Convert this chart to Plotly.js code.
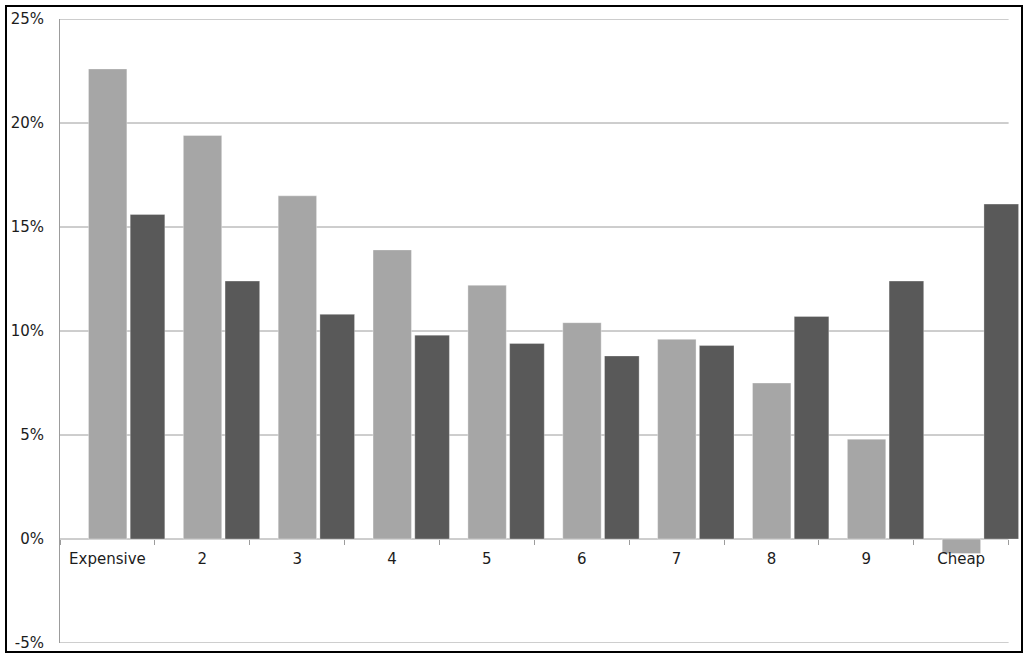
<!DOCTYPE html>
<html>
<head>
<meta charset="utf-8">
<script src="https://cdn.plot.ly/plotly-3.0.1.min.js"></script>
<style>
  html, body { margin: 0; padding: 0; background: white; }
  #chart { width: 1030px; height: 659px; }
  #frame {
    position: absolute; left: 5px; top: 5px; width: 1018px; height: 648px;
    box-sizing: border-box; border: 2px solid #000; pointer-events: none;
  }
</style>
</head>
<body>
<div id="chart"></div>
<div id="frame"></div>
<script>
// categories along the x axis
const categories = ['Expensive', '2', '3', '4', '5', '6', '7', '8', '9', 'Cheap'];

// values in percent
const lightValues = [22.6, 19.4, 16.5, 13.9, 12.2, 10.4, 9.6, 7.5, 4.8, -0.7];
const darkValues = [15.6, 12.4, 10.8, 9.8, 9.4, 8.8, 9.3, 10.7, 12.4, 16.1];

const yTicks = [-5, 0, 5, 10, 15, 20, 25];

const gridGray = '#9c9c9c';
const textColor = '#1c1c1c';

const lightTrace = {
    x: categories,
    y: lightValues,
    type: 'bar',
    name: 'Series 1',
    offset: -0.2,
    width: 0.405,
    marker: { color: '#a6a6a6', line: { color: 'rgba(255,255,255,0.35)', width: 1 } },
    hoverinfo: 'x+y'
};

const darkTrace = {
    x: categories,
    y: darkValues,
    type: 'bar',
    name: 'Series 2',
    offset: 0.24,
    width: 0.365,
    marker: { color: '#595959', line: { color: 'rgba(255,255,255,0.3)', width: 1 } },
    hoverinfo: 'x+y'
};

// the last dark bar pokes out past the right end of the gridlines,
// so the grid is drawn as shapes only across the ten categories
const gridShapes = yTicks.map(v => ({
    type: 'line', layer: 'below',
    xref: 'x', yref: 'y',
    x0: -0.5, x1: categories.length - 0.5, y0: v, y1: v,
    line: { color: gridGray, width: 1 }
}));

const layout = {
    width: 1030,
    height: 659,
    paper_bgcolor: 'white',
    plot_bgcolor: 'white',
    margin: { t: 19, b: 16, l: 60, r: 10 },
    showlegend: false,
    barmode: 'overlay',
    font: { family: '"DejaVu Sans", Verdana, sans-serif', size: 15, color: textColor },
    shapes: gridShapes,
    xaxis: {
        type: 'category',
        range: [-0.5, 9.62],
        anchor: 'free',
        position: 5 / 30,   // sits on the 0% line
        showline: false,
        showgrid: false,
        zeroline: false,
        ticks: 'outside',
        tickson: 'boundaries',
        ticklen: 5,
        tickcolor: gridGray,
        ticklabelstandoff: 9,
        tickfont: { size: 15, color: textColor },
        fixedrange: true
    },
    yaxis: {
        range: [-5, 25],
        tickvals: yTicks,
        ticktext: yTicks.map(v => v + '%'),
        showline: true,
        linecolor: gridGray,
        linewidth: 1,
        showgrid: false,
        zeroline: false,
        ticks: '',
        ticklabelstandoff: 12,
        tickfont: { size: 15, color: textColor },
        fixedrange: true
    }
};

Plotly.newPlot('chart', [lightTrace, darkTrace], layout, { displayModeBar: false, staticPlot: true });
</script>
</body>
</html>
